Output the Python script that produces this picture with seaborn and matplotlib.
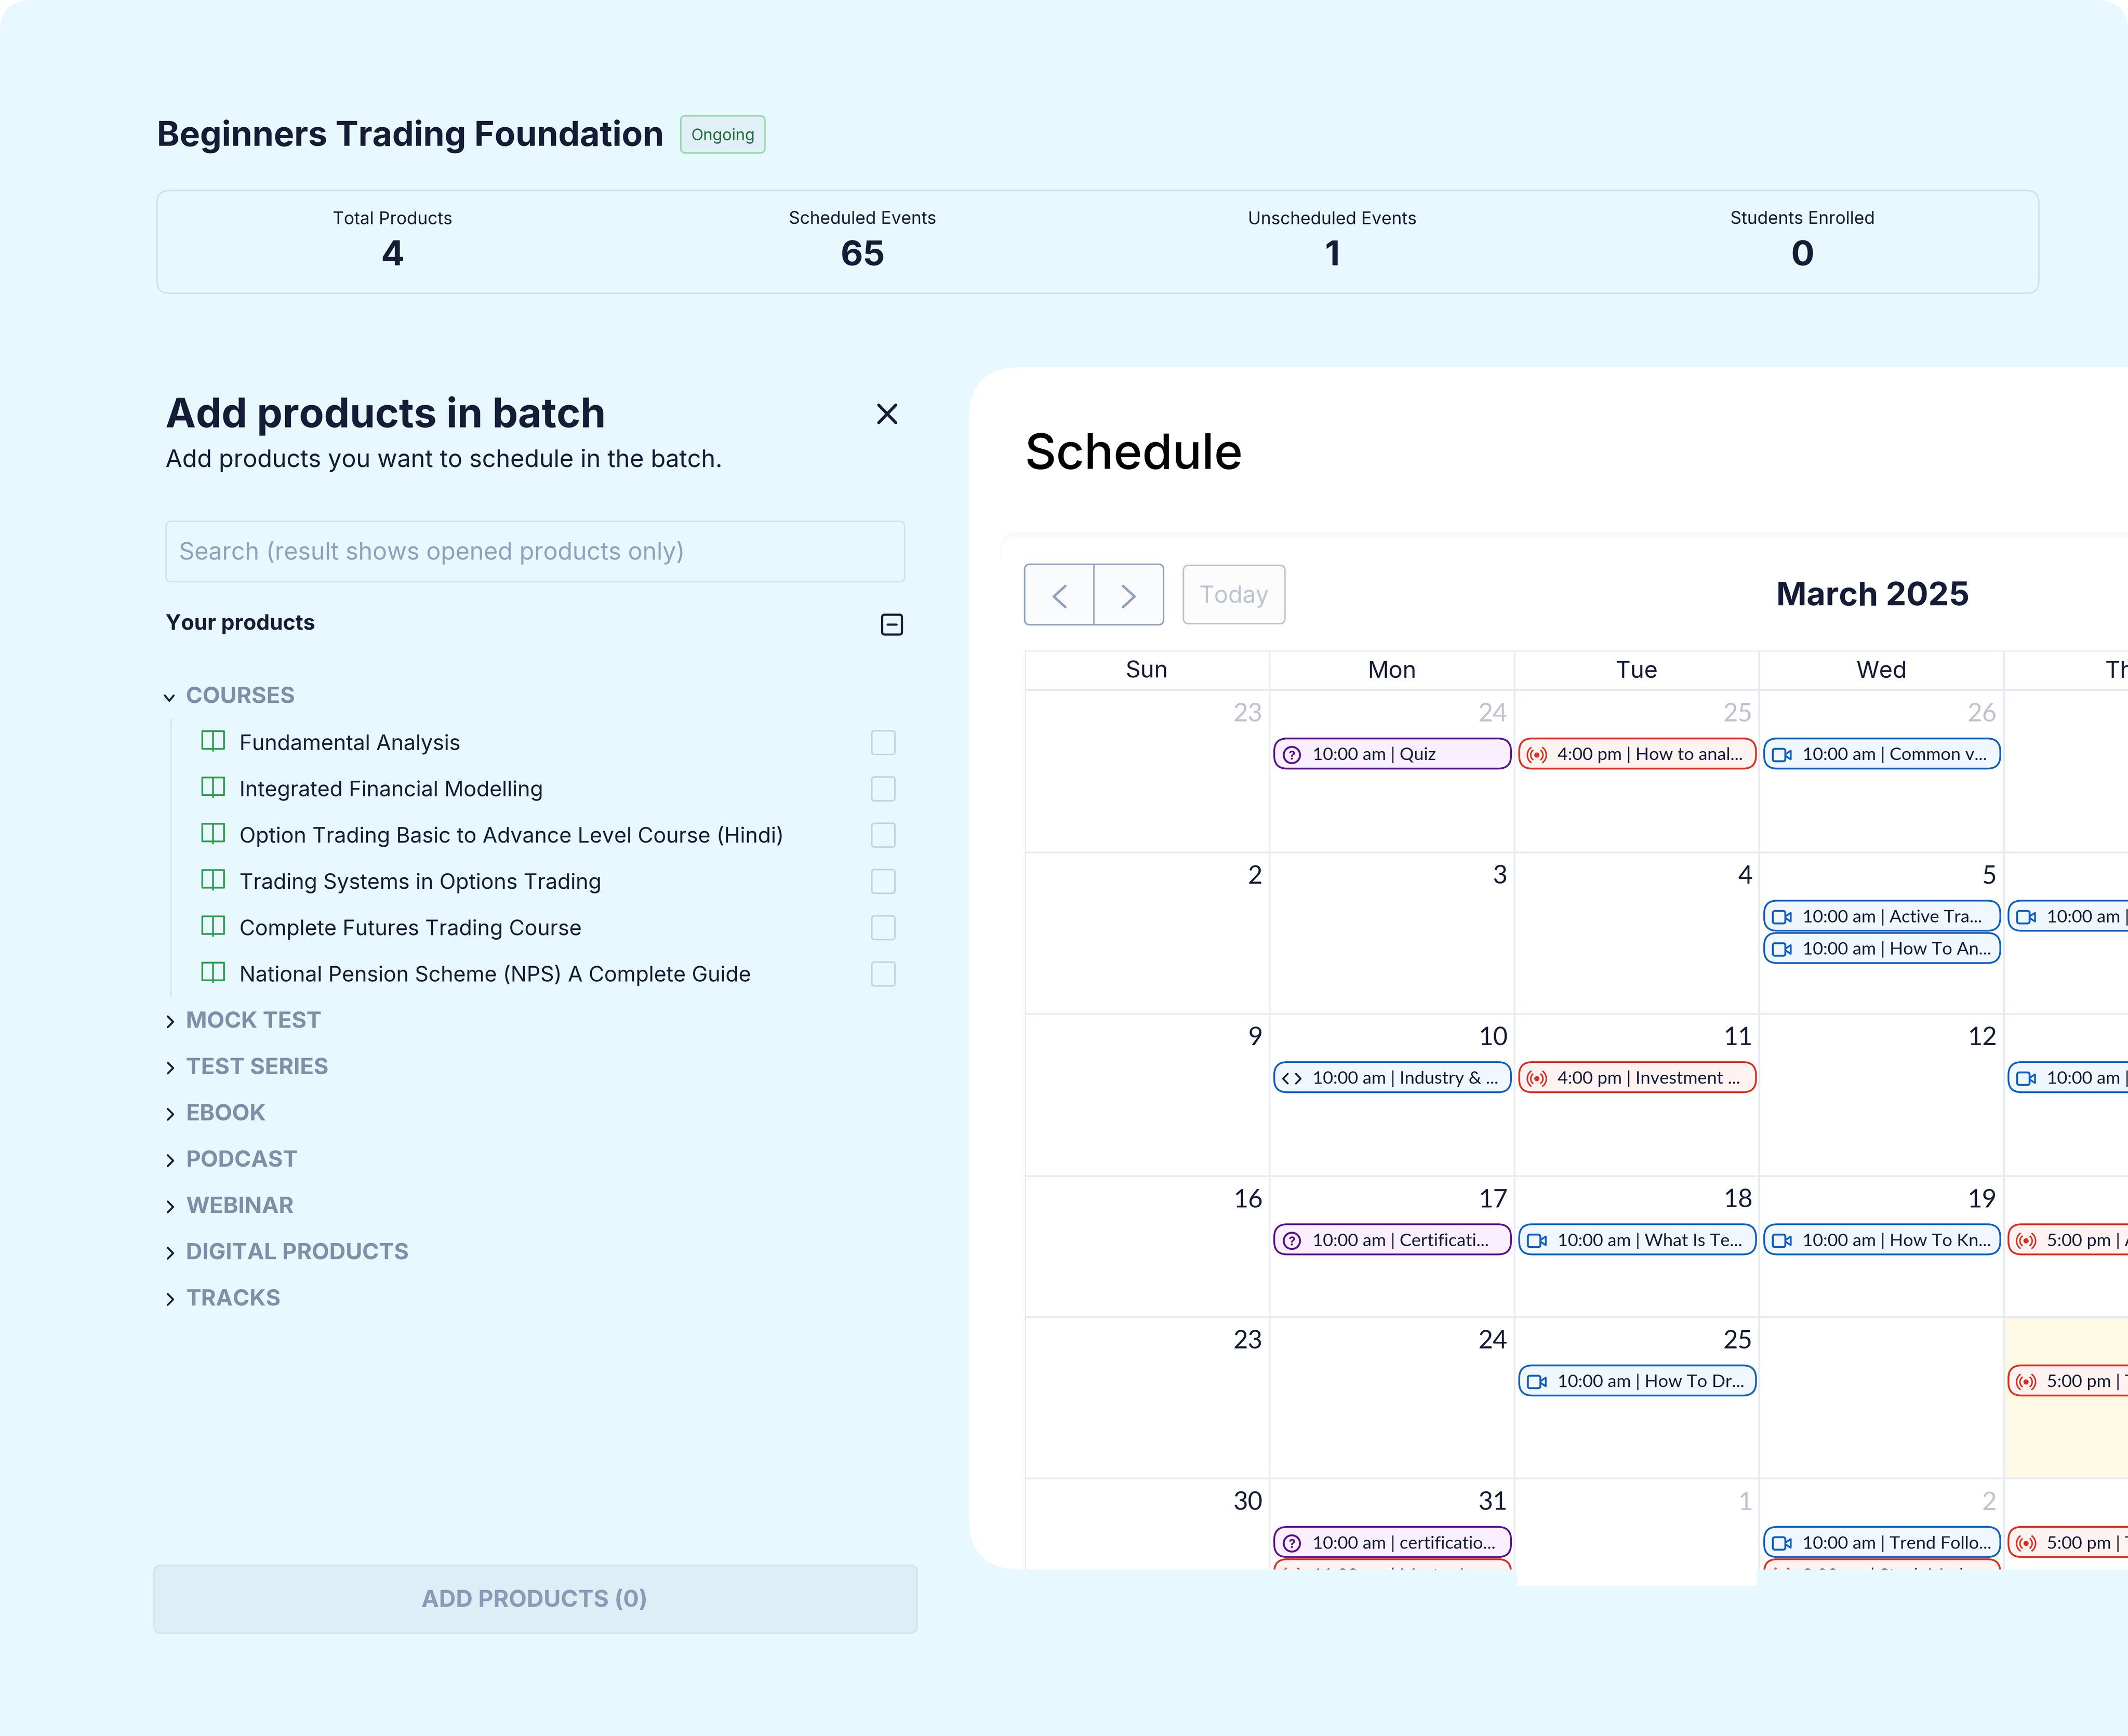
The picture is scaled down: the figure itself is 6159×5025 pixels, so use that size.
import numpy as np
import matplotlib
matplotlib.use("Agg")
import matplotlib.pyplot as plt
import matplotlib.patches as mpatches
from matplotlib.colors import ListedColormap
from matplotlib.transforms import Bbox, TransformedBbox
import seaborn as sns

# text and values
course_title = "Beginners Trading Foundation"
course_status = "Ongoing"
stat_labels = ["Total Products", "Scheduled Events", "Unscheduled Events", "Students Enrolled"]
stat_values = ["4", "65", "1", "0"]
open_group = "COURSES"
products = ["Fundamental Analysis", "Integrated Financial Modelling",
            "Option Trading Basic to Advance Level Course (Hindi)",
            "Trading Systems in Options Trading", "Complete Futures Trading Course",
            "National Pension Scheme (NPS) A Complete Guide"]
closed_groups = ["MOCK TEST", "TEST SERIES", "EBOOK", "PODCAST", "WEBINAR",
                 "DIGITAL PRODUCTS", "TRACKS"]
week_days = ["Sun", "Mon", "Tue", "Wed", "Thu"]
day_numbers = [["23", "24", "25", "26", ""],
               ["2", "3", "4", "5", ""],
               ["9", "10", "11", "12", ""],
               ["16", "17", "18", "19", ""],
               ["23", "24", "25", "", ""],
               ["30", "31", "1", "2", ""]]
muted_days = [[1, 1, 1, 1, 0],
              [0, 0, 0, 0, 0],
              [0, 0, 0, 0, 0],
              [0, 0, 0, 0, 0],
              [0, 0, 0, 0, 0],
              [0, 0, 1, 1, 0]]
today_cells = [[0, 0, 0, 0, 0],
               [0, 0, 0, 0, 0],
               [0, 0, 0, 0, 0],
               [0, 0, 0, 0, 0],
               [0, 0, 0, 0, 1],
               [0, 0, 0, 0, 0]]
event_rows = [0, 0, 0, 1, 1, 1, 2, 2, 2, 3, 3, 3, 3, 4, 4, 5, 5, 5, 5, 5]
event_cols = [1, 2, 3, 3, 3, 4, 1, 2, 4, 1, 2, 3, 4, 2, 4, 1, 1, 3, 3, 4]
event_slots = [0, 0, 0, 0, 1, 0, 0, 0, 0, 0, 0, 0, 0, 0, 0, 0, 1, 0, 1, 0]
event_kinds = ["quiz", "live", "video", "video", "video", "video", "code", "live", "video",
               "quiz", "video", "video", "live", "video", "live", "quiz", "live", "video",
               "live", "live"]
event_labels = ["10:00 am | Quiz", "4:00 pm | How to anal...", "10:00 am | Common v...",
                "10:00 am | Active Tra...", "10:00 am | How To An...", "10:00 am |",
                "10:00 am | Industry & ...", "4:00 pm | Investment ...", "10:00 am |",
                "10:00 am | Certificati...", "10:00 am | What Is Te...", "10:00 am | How To Kn...",
                "5:00 pm | A", "10:00 am | How To Dr...", "5:00 pm | T",
                "10:00 am | certificatio...", "11:00 am | Master I", "10:00 am | Trend Follo...",
                "9:00 am | Stock Mark", "5:00 pm | T"]

# layout, in px of the 1568 wide screenshot
W, H = 1568, 1568 * 5025 / 6159
PT = (6159 / 1568) * 72 / 400
col_edges = [755, 935.5, 1116, 1296.5, 1476.5, 1657]
row_edges = [508.5, 628, 747, 866.5, 970.5, 1089.5, 1209]
CLIP_Y = 1156.6

NAVY = "#141C36"
BG = "#E8F8FF"
LINE = "#D0E2EE"
GRID = "#E6EAF4"
HEAD = "Inter"
BODY = "Lato"
kind_colors = {"quiz": ("#5B0F8B", "#FAEFFE"), "live": ("#E02B1D", "#FFF3F2"),
               "video": ("#0B5FC4", "#F0F7FF"), "code": ("#0B5FC4", "#F0F7FF")}

sns.set_theme(style="white")
plt.rcParams["font.family"] = [HEAD, "DejaVu Sans"]

fig = plt.figure(figsize=(6159 / 400, 5025 / 400), dpi=400, facecolor="white")


def full_axes(z):
    a = fig.add_axes([0, 0, 1, 1], zorder=z)
    a.set_xlim(0, W)
    a.set_ylim(H, 0)
    a.axis("off")
    return a


ax = full_axes(0)
top = full_axes(5)
# agg ignores a clip path on text, so text gets a plain box at the panel bottom
text_clip = TransformedBbox(Bbox([[0, 0], [W, CLIP_Y]]), top.transData)


def box(a, x0, y0, x1, y1, r, fc, ec="none", lw=1.0, z=2):
    p = mpatches.FancyBboxPatch((x0, y0), x1 - x0, y1 - y0,
                                boxstyle=f"round,pad=0,rounding_size={r}",
                                fc=fc, ec=ec, lw=lw * PT, zorder=z)
    a.add_patch(p)
    return p


def put(a, x, y, s, size, color=NAVY, weight="normal", family=HEAD, ha="left", **kw):
    return a.text(x, y, s, fontsize=size * PT, color=color, fontweight=weight,
                  family=[family, "DejaVu Sans"], ha=ha, va="baseline", zorder=6, **kw)


def stroke(a, xs, ys, color, lw=1.5, z=4):
    return a.plot(xs, ys, color=color, lw=lw * PT, solid_capstyle="round",
                  solid_joinstyle="round", zorder=z)[0]


# page and white schedule panel
box(ax, 0, 0, W, H + 80, 24, BG, z=1)
panel = box(ax, 714, 270.5, W + 100, CLIP_Y, 38, "white", z=2)
ax.add_patch(mpatches.Rectangle((1118, 1100), 176.5, 68.5, fc="white", ec="none", zorder=2))
box(ax, 737, 392, W + 60, 420, 12, "#FAF9FB", z=2)
box(ax, 738, 396.5, W + 60, 1100, 12, "white", z=2)

# header
put(ax, 115.5, 107.5, course_title, 25.3, weight="bold")
box(ax, 501.6, 85.4, 563.6, 112.7, 3.5, "#E0F0F6", "#93DBA4", 1.1)
put(ax, 532.6, 103.3, course_status, 11.7, color="#1F6B3F", ha="center")
box(ax, 115.7, 140.4, 1502.3, 216.2, 9, "none", LINE, 1.1)
for x, lab, val in zip([289.3, 635.6, 981.8, 1328.2], stat_labels, stat_values):
    put(ax, x, 165.2, lab, 12.8, ha="center")
    put(ax, x, 195.6, val, 25.5, weight="bold", ha="center")

# product picker
put(ax, 122, 315, "Add products in batch", 30, weight="bold")
put(ax, 122, 344.2, "Add products you want to schedule in the batch.", 17.9)
stroke(ax, [647.5, 660], [298.5, 311.5], NAVY, 2.2)
stroke(ax, [660, 647.5], [298.5, 311.5], NAVY, 2.2)
box(ax, 122.4, 384.2, 666.6, 428.6, 4, "none", LINE, 1.1)
put(ax, 132, 412.5, "Search (result shows opened products only)", 17.8, color="#8DA2BC")
put(ax, 122, 464.2, "Your products", 15.7, weight="bold")
box(ax, 650, 453, 664.6, 467.6, 1.8, "none", NAVY, 1.6)
stroke(ax, [654, 660.6], [460.3, 460.3], NAVY, 1.6)

GROUP = "#7F8FA8"
put(ax, 137, 518.2, open_group, 16.7, color=GROUP, weight="bold")
stroke(ax, [121.5, 124.7, 128], [512.5, 516.5, 512.5], NAVY, 1.4)
ax.plot([125.8, 125.8], [530, 734.8], color="#D5E3EF", lw=1.1 * PT, zorder=3)
for i, name in enumerate(products):
    y = 552 + 34.1 * i
    put(ax, 176.4, y + 0.7, name, 15.75)
    # open book icon
    book = "#2E9E4F"
    t = y - 13.2
    stroke(ax, [149, 149, 156.8, 156.8, 149], [t, t + 13, t + 13, t, t], book, 1.3)
    stroke(ax, [156.8, 165, 165, 156.8], [t, t, t + 13, t + 13], book, 1.3)
    stroke(ax, [156.8, 156.8], [t + 13, t + 14.4], book, 1.3)
    box(ax, 642.4, y - 13.5, 659.4, y + 4, 2, "none", "#C3D2DF", 1.1)
for i, name in enumerate(closed_groups):
    y = 757 + 34.1 * i
    put(ax, 137, y + 0.5, name, 16.7, color=GROUP, weight="bold")
    stroke(ax, [123.6, 127.6, 123.6], [y - 8, y - 4, y], NAVY, 1.4)

box(ax, 113.6, 1153.5, 675.7, 1203.5, 5, "#DDEEF6", "#D1E4F0", 1.1)
put(ax, 394, 1184.2, "ADD PRODUCTS (0)", 17.2, color="#8A9BB8", weight="bold", ha="center")

# schedule header
put(ax, 755, 345.6, "Schedule", 36, color="black", weight="medium")
box(ax, 755, 415.8, 857.4, 460.4, 4, "#FAFBFC", "#8EA2BF", 1.1)
ax.plot([806, 806], [416, 460], color="#8EA2BF", lw=1 * PT, zorder=3)
stroke(ax, [785, 776.5, 785], [431.8, 439.6, 447.4], "#8EA2BF", 1.8)
stroke(ax, [827.5, 836, 827.5], [431.8, 439.6, 447.4], "#8EA2BF", 1.8)
box(ax, 872, 416.6, 946.8, 459.6, 4, "#FCFCFD", "#B8C4D6", 1.1)
put(ax, 909.4, 444.3, "Today", 17.3, color="#BDC5D4", ha="center")
put(ax, 1380, 445.9, "March 2025", 24, weight="bold", ha="center")


def cell_axes(x0, y0, x1, y1):
    a = fig.add_axes([x0 / W, 1 - y1 / H, (x1 - x0) / W, (y1 - y0) / H], zorder=3)
    a.patch.set_alpha(0)
    return a


# calendar grid, one heatmap per row because the row heights differ
cell_cmap = ListedColormap(["white", "#FEF9E4"])
head_ax = cell_axes(col_edges[0], 479.5, col_edges[-1], row_edges[0])
sns.heatmap(np.zeros((1, 5)), ax=head_ax, cmap=cell_cmap, vmin=0, vmax=1, cbar=False,
            annot=np.array([week_days]), fmt="",
            annot_kws={"fontsize": 17.2 * PT, "color": NAVY, "family": [HEAD, "DejaVu Sans"]},
            linewidths=1.2 * PT, linecolor=GRID, xticklabels=False, yticklabels=False)
for lab in head_ax.texts:
    lab.set_y(0.53)
for r, row in enumerate(today_cells):
    y0, y1 = row_edges[r], row_edges[r + 1]
    shown = min(y1, CLIP_Y)
    row_ax = cell_axes(col_edges[0], y0, col_edges[-1], shown)
    sns.heatmap(np.array([row]), ax=row_ax, cmap=cell_cmap, vmin=0, vmax=1, cbar=False,
                linewidths=1.2 * PT, linecolor=GRID, xticklabels=False, yticklabels=False)
    row_ax.set_ylim((shown - y0) / (y1 - y0), 0)


def clip(artist):
    artist.set_clip_path(panel)
    return artist


def pill_icon(kind, x, y, color):
    parts = []
    if kind == "quiz":
        parts.append(top.add_patch(mpatches.Circle((x, y), 6, fc="none", ec=color, lw=1.4 * PT, zorder=5)))
        q = top.text(x, y + 3.4, "?", fontsize=9 * PT, color=color, fontweight="bold",
                     ha="center", va="baseline", zorder=6, clip_on=True)
        q.set_clip_box(text_clip)
    elif kind == "live":
        parts.append(top.add_patch(mpatches.Circle((x, y), 1.9, fc=color, ec="none", zorder=5)))
        for rad in [9, 14]:
            parts.append(top.add_patch(mpatches.Arc((x, y), rad, rad, theta1=-55, theta2=55,
                                                    ec=color, lw=1.1 * PT, zorder=5)))
            parts.append(top.add_patch(mpatches.Arc((x, y), rad, rad, theta1=125, theta2=235,
                                                    ec=color, lw=1.1 * PT, zorder=5)))
    elif kind == "video":
        parts.append(box(top, x - 6.6, y - 4.6, x + 2.6, y + 4.6, 1.6, "none", color, 1.4, z=5))
        parts.append(stroke(top, [x + 3, x + 6.6, x + 6.6, x + 3], [y - 0.8, y - 3.2, y + 3.2, y + 0.8],
                            color, 1.3, z=5))
    else:
        parts.append(stroke(top, [x - 3, x - 6.5, x - 3], [y - 3.6, y, y + 3.6], NAVY, 1.3, z=5))
        parts.append(stroke(top, [x + 3, x + 6.5, x + 3], [y - 3.6, y, y + 3.6], NAVY, 1.3, z=5))
    for p in parts:
        clip(p)


# day numbers and event pills
for r, row in enumerate(day_numbers):
    for c, day in enumerate(row):
        if day:
            color = "#BFC3CF" if muted_days[r][c] else NAVY
            put(top, col_edges[c + 1] - 5.2, row_edges[r] + 23.2, day, 18.6, color=color,
                family=BODY, ha="right")

for r, c, slot, kind, label in zip(event_rows, event_cols, event_slots, event_kinds, event_labels):
    y0 = row_edges[r] + 35.7 + 23.8 * slot
    x0 = col_edges[c] + 3.4
    edge, fill = kind_colors[kind]
    clip(box(top, x0, y0, col_edges[c + 1] - 2.6, y0 + 22.2, 9.5, fill, edge, 1.3, z=4))
    pill_icon(kind, x0 + 13, y0 + 12.2, edge)
    lab = put(top, x0 + 28.3, y0 + 16, label, 13.1, family=BODY, clip_on=True)
    lab.set_clip_box(text_clip)

fig.savefig("out.png", dpi=400, facecolor="white")
